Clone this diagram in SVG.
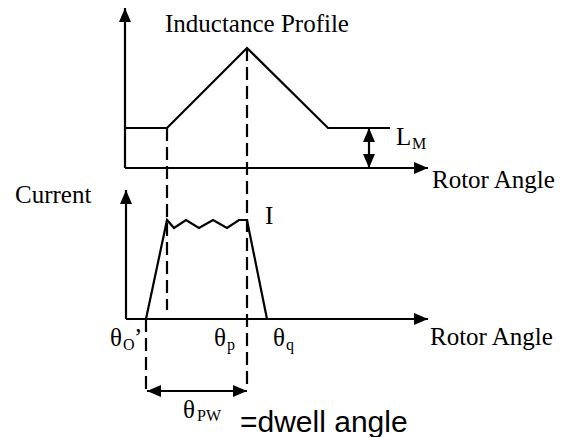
<svg xmlns="http://www.w3.org/2000/svg" width="565" height="437" viewBox="0 0 565 437">
<defs>
<marker id="ah" viewBox="0 0 14 12" refX="14" refY="6" markerWidth="14" markerHeight="12" markerUnits="userSpaceOnUse" orient="auto-start-reverse">
<path d="M0,0 L14,6 L0,12 Z" fill="#000"/>
</marker>
<style>
.ln{stroke:#000;stroke-width:2.2;fill:none}
.ds{stroke:#000;stroke-width:2.2;fill:none;stroke-dasharray:13,6}
.t{font-family:"Liberation Serif","Times New Roman",serif;font-size:25px;fill:#000}
.s{font-size:16px}
.a{font-family:"Liberation Sans",Arial,sans-serif;font-size:30px;fill:#000}
</style>
</defs>
<rect width="565" height="437" fill="#fff"/>
<g id="connectors">
<path class="ln" d="M125,168 V8" marker-end="url(#ah)"/>
<path class="ln" d="M125,168 H428" marker-end="url(#ah)"/>
<path class="ln" d="M126,319 V190" marker-end="url(#ah)"/>
<path class="ln" d="M126,319 H428" marker-end="url(#ah)"/>
<path class="ln" d="M369,128 V168" marker-start="url(#ah)" marker-end="url(#ah)"/>
<path class="ln" d="M147,391 H247" marker-start="url(#ah)" marker-end="url(#ah)"/>
<path class="ds" d="M167,128 V310"/>
<path class="ds" d="M247,48 V390"/>
<path class="ds" d="M146,319 V390"/>
</g>
<g id="inductance-profile">
<path class="ln" d="M125,128 H167 L247,48 L328,128 H390"/>
<text class="t" x="165" y="32">Inductance Profile</text>
</g>
<g id="current-profile">
<path class="ln" d="M146,319 L167,220 L174,228 L186,220 L199,228 L213,220 L227,228 L239,220 L247,220 L267,319"/>
<text class="t" x="265" y="224">I</text>
</g>
<g id="labels">
<text class="t" x="396" y="145">L</text>
<text class="t s" x="412" y="149">M</text>
<text class="t" x="432" y="188">Rotor Angle</text>
<text class="t" x="15" y="203">Current</text>
<text class="t" x="430" y="345">Rotor Angle</text>
<text class="t" x="110" y="346">θ</text>
<text class="t s" x="123" y="350">O</text>
<text class="t" x="134" y="346">’</text>
<text class="t" x="214" y="346">θ</text>
<text class="t s" x="227" y="350">p</text>
<text class="t" x="273" y="346">θ</text>
<text class="t s" x="286" y="350">q</text>
<text class="t" x="183" y="418">θ</text>
<text class="t s" x="197" y="421">PW</text>
<text class="a" x="240" y="432">=dwell angle</text>
</g>
</svg>
